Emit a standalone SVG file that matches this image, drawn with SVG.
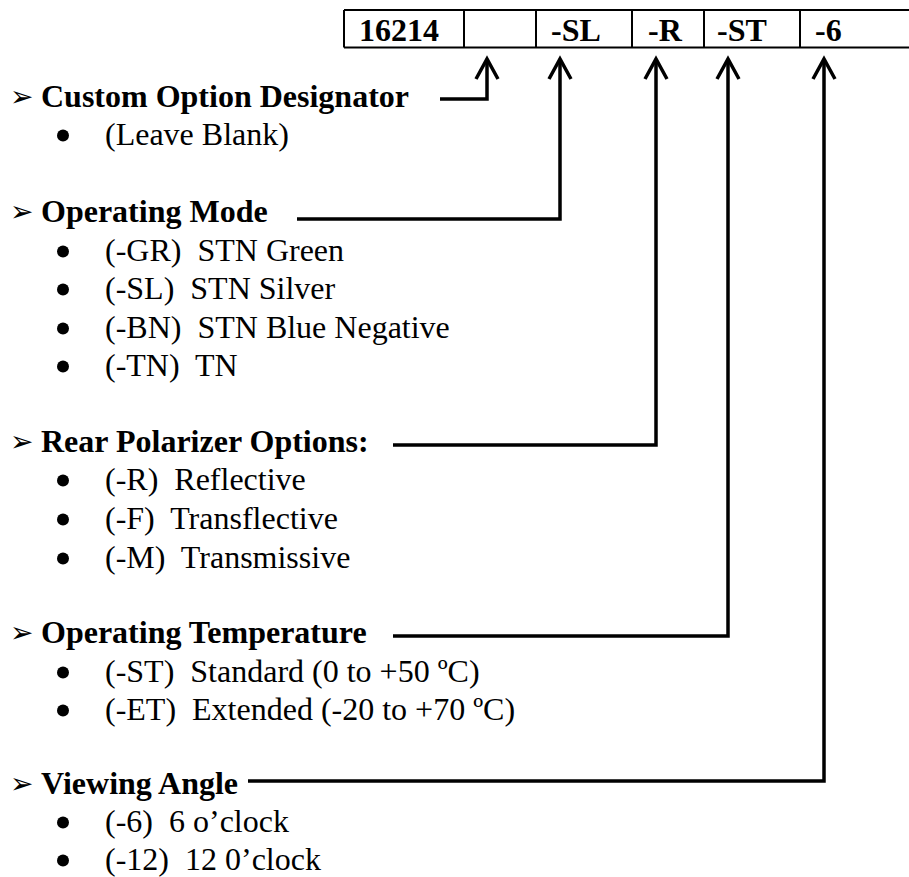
<svg xmlns="http://www.w3.org/2000/svg" width="909" height="877" viewBox="0 0 909 877">
<style>
  .hdr { font-family: "Liberation Serif", "Times New Roman", serif; font-weight: bold; font-size: 32px; fill: #000; }
  .item { font-family: "Liberation Serif", "Times New Roman", serif; font-size: 32px; fill: #000; }
  .cell { font-family: "Liberation Serif", "Times New Roman", serif; font-weight: bold; font-size: 32px; fill: #000; }
  .mark { font-family: "DejaVu Sans", sans-serif; font-size: 28px; fill: #000; }
  .dot { fill: #000; }
  .tbl { stroke: #000; stroke-width: 2; fill: none; }
  .conn { stroke: #000; stroke-width: 3.5; fill: none; stroke-linejoin: miter; }
</style>
<defs>
  <marker id="arrow" markerUnits="userSpaceOnUse" markerWidth="30" markerHeight="30" viewBox="0 0 30 30" refX="19" refY="15" orient="auto" overflow="visible">
    <path d="M0,4 L20,15 L0,26" fill="none" stroke="#000" stroke-width="3.5" stroke-linejoin="miter"/>
  </marker>
</defs>

<g id="code-table">
  <line class="tbl" x1="344" y1="10" x2="909" y2="10"/>
  <line class="tbl" x1="344" y1="47.5" x2="909" y2="47.5"/>
  <line class="tbl" x1="344" y1="10" x2="344" y2="47.5"/>
  <line class="tbl" x1="464" y1="10" x2="464" y2="47.5"/>
  <line class="tbl" x1="536" y1="10" x2="536" y2="47.5"/>
  <line class="tbl" x1="632" y1="10" x2="632" y2="47.5"/>
  <line class="tbl" x1="704" y1="10" x2="704" y2="47.5"/>
  <line class="tbl" x1="800" y1="10" x2="800" y2="47.5"/>
  <text class="cell" x="359" y="41">16214</text>
  <text class="cell" x="551" y="41">-SL</text>
  <text class="cell" x="648" y="41">-R</text>
  <text class="cell" x="717" y="41">-ST</text>
  <text class="cell" x="815" y="41">-6</text>
</g>

<g id="custom-option">
  <text class="mark" x="10" y="106">➢</text>
  <text class="hdr" x="41" y="107">Custom Option Designator</text>
  <circle class="dot" cx="63" cy="135.5" r="6"/>
  <text class="item" x="105" y="145">(Leave Blank)</text>
</g>

<g id="operating-mode">
  <text class="mark" x="10" y="221">➢</text>
  <text class="hdr" x="41" y="222">Operating Mode</text>
  <circle class="dot" cx="63" cy="251.5" r="6"/>
  <text class="item" x="105" y="261" xml:space="preserve">(-GR)  STN Green</text>
  <circle class="dot" cx="63" cy="289.5" r="6"/>
  <text class="item" x="105" y="299" xml:space="preserve">(-SL)  STN Silver</text>
  <circle class="dot" cx="63" cy="328.5" r="6"/>
  <text class="item" x="105" y="338" xml:space="preserve">(-BN)  STN Blue Negative</text>
  <circle class="dot" cx="63" cy="366.5" r="6"/>
  <text class="item" x="105" y="376" xml:space="preserve">(-TN)  TN</text>
</g>

<g id="rear-polarizer">
  <text class="mark" x="10" y="451">➢</text>
  <text class="hdr" x="41" y="452">Rear Polarizer Options:</text>
  <circle class="dot" cx="63" cy="480.5" r="6"/>
  <text class="item" x="105" y="490" xml:space="preserve">(-R)  Reflective</text>
  <circle class="dot" cx="63" cy="519.5" r="6"/>
  <text class="item" x="105" y="529" xml:space="preserve">(-F)  Transflective</text>
  <circle class="dot" cx="63" cy="558.5" r="6"/>
  <text class="item" x="105" y="568" xml:space="preserve">(-M)  Transmissive</text>
</g>

<g id="operating-temperature">
  <text class="mark" x="10" y="642">➢</text>
  <text class="hdr" x="41" y="643">Operating Temperature</text>
  <circle class="dot" cx="63" cy="672.5" r="6"/>
  <text class="item" x="105" y="682" xml:space="preserve">(-ST)  Standard (0 to +50 ºC)</text>
  <circle class="dot" cx="63" cy="710.5" r="6"/>
  <text class="item" x="105" y="720" xml:space="preserve">(-ET)  Extended (-20 to +70 ºC)</text>
</g>

<g id="viewing-angle">
  <text class="mark" x="10" y="793">➢</text>
  <text class="hdr" x="41" y="794">Viewing Angle</text>
  <circle class="dot" cx="63" cy="822.5" r="6"/>
  <text class="item" x="105" y="832" xml:space="preserve">(-6)  6 o’clock</text>
  <circle class="dot" cx="63" cy="860.5" r="6"/>
  <text class="item" x="105" y="870" xml:space="preserve">(-12)  12 0’clock</text>
</g>

<g id="connectors">
  <path class="conn" d="M440,99 H487 V60" marker-end="url(#arrow)"/>
  <path class="conn" d="M297,219 H560 V60" marker-end="url(#arrow)"/>
  <path class="conn" d="M393,445 H656 V60" marker-end="url(#arrow)"/>
  <path class="conn" d="M393,636 H728 V60" marker-end="url(#arrow)"/>
  <path class="conn" d="M248,781 H824 V60" marker-end="url(#arrow)"/>
</g>
</svg>
